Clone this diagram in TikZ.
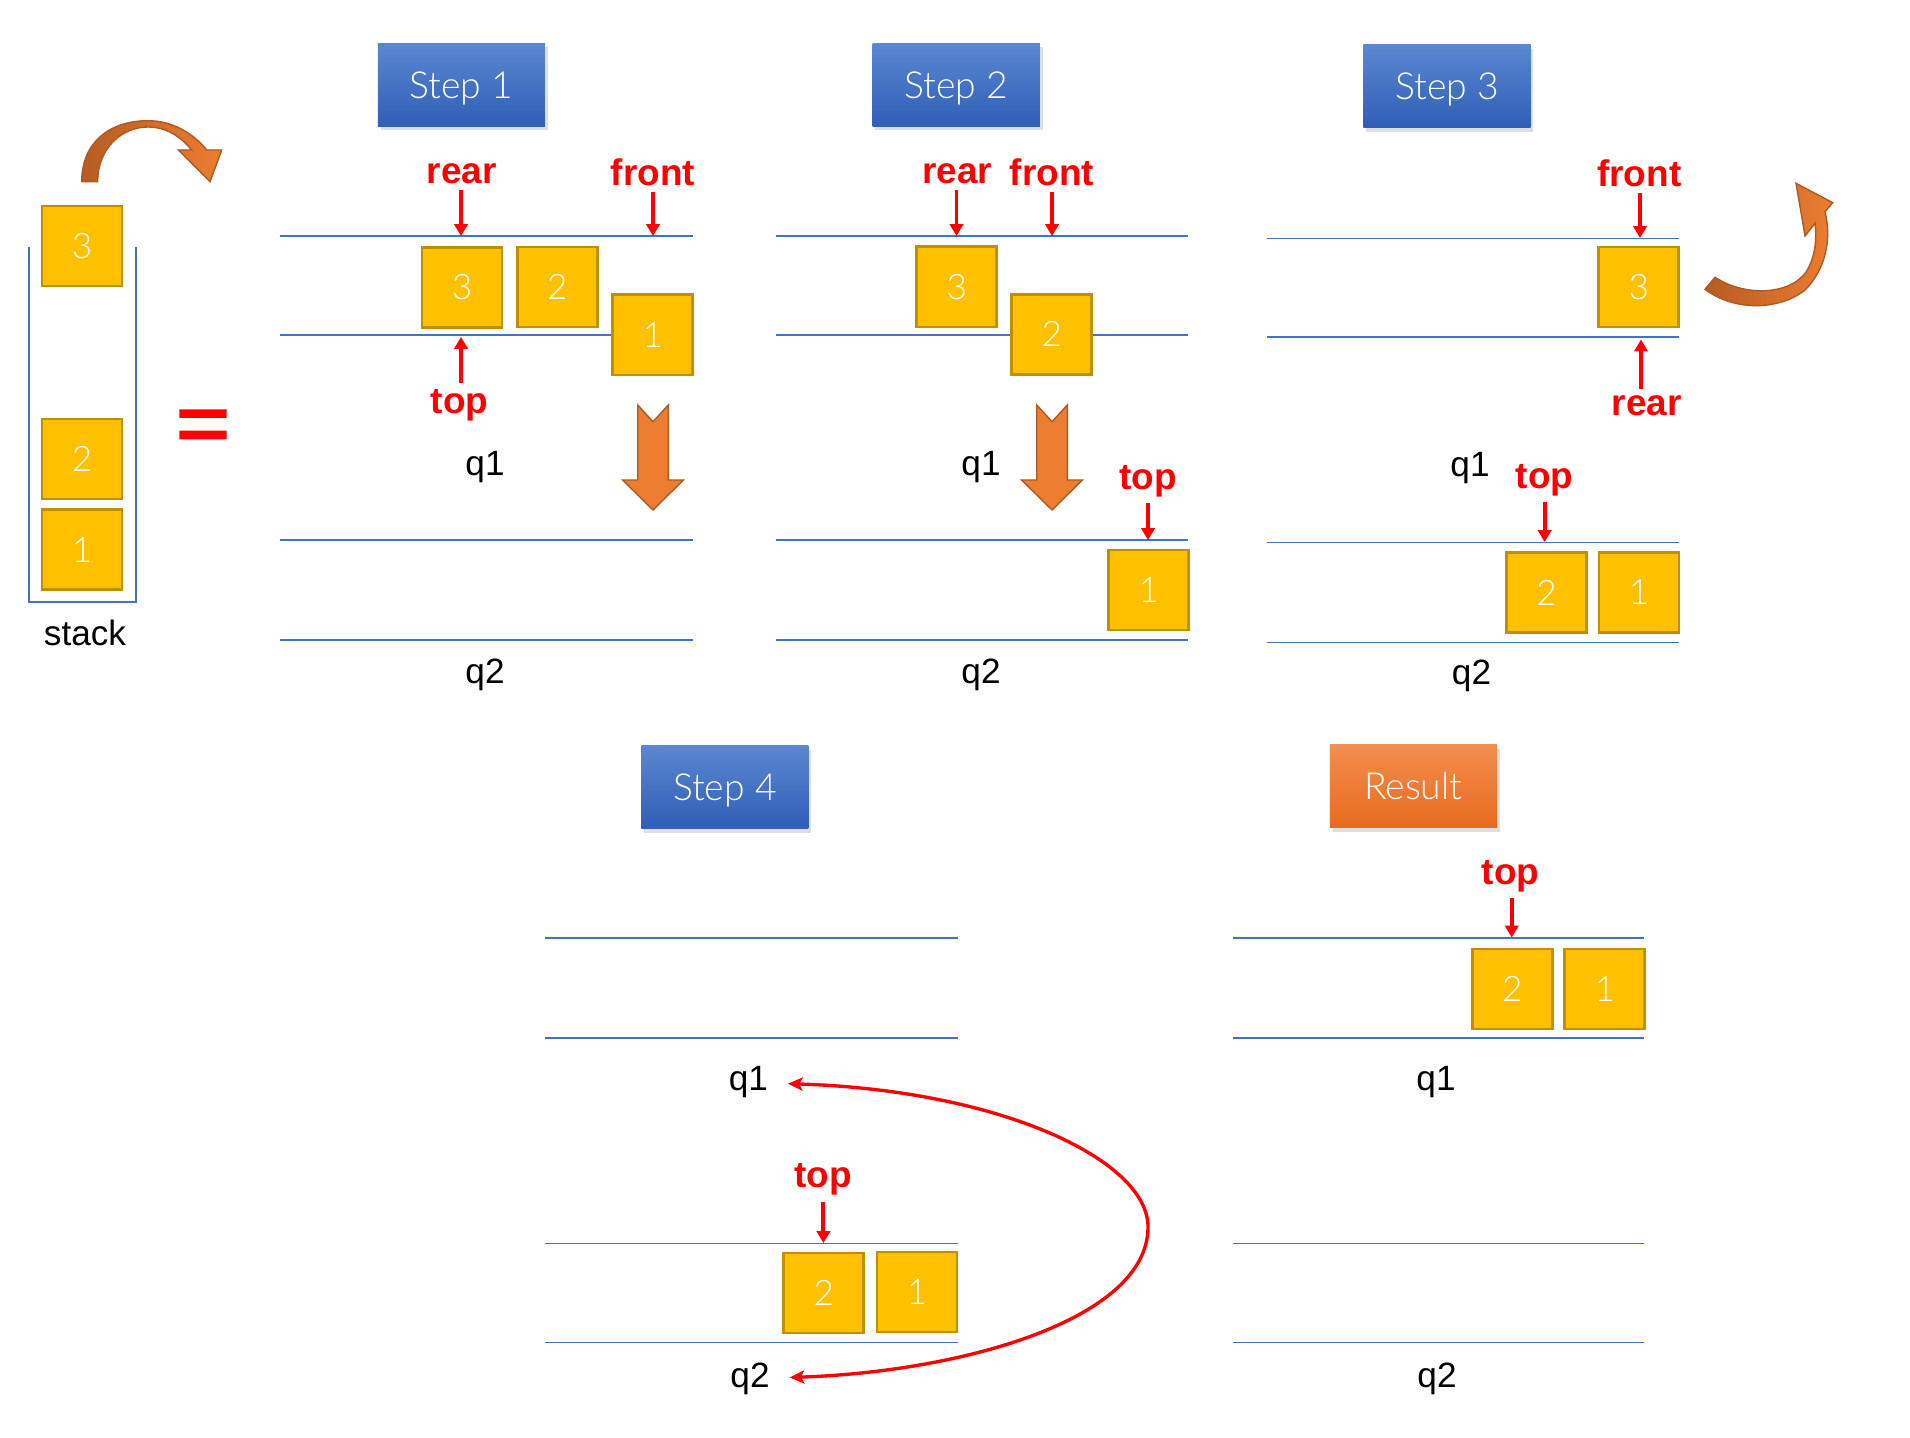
\documentclass[tikz,border=0pt]{standalone}
\usepackage{fontspec}
\setmainfont{Liberation Sans}
\newfontfamily\lightfont{Lato Light}
\usetikzlibrary{arrows.meta,shadows}

\definecolor{qblue}{HTML}{4472C4}
\definecolor{elemfill}{HTML}{FFC000}
\definecolor{elemedge}{HTML}{BF9000}
\definecolor{ptrred}{HTML}{FF0000}
\definecolor{bendlight}{HTML}{ED7D31}
\definecolor{benddark}{HTML}{B65C22}
\definecolor{bendedge}{HTML}{AE5A21}
\definecolor{stepblueT}{HTML}{5B87D1}
\definecolor{stepblueB}{HTML}{2F5EB6}
\definecolor{resultT}{HTML}{F28E50}
\definecolor{resultB}{HTML}{E86A1C}

\begin{document}
\begin{tikzpicture}[
    x=0.01cm, y=-0.01cm,
    font=\fontsize{10}{12}\selectfont,
    qline/.style={draw=qblue, line width=0.5pt},
    elem/.style={draw=elemedge, fill=elemfill, line width=0.8pt,
      minimum size=0.8cm, inner sep=0pt, text=white,
      font=\lightfont\fontsize{10}{12}\selectfont},
    ptr/.style={text=ptrred, inner sep=1.5pt,
      font=\bfseries\fontsize{10.5}{12}\selectfont},
    ptrarrow/.style={draw=ptrred, line width=1.1pt,
      -{Triangle[length=3.4pt,width=3.8pt]}},
    swaparrow/.style={draw=ptrred, line width=0.95pt,
      {Stealth[length=4.2pt,width=3.8pt,inset=1pt]}-{Stealth[length=4.2pt,width=3.8pt,inset=1pt]},
      shorten <=2.5pt, shorten >=2.5pt},
    qname/.style={inner sep=3pt},
    stepbox/.style={minimum width=1.67cm, minimum height=0.83cm,
      text depth=0pt, top color=stepblueT, bottom color=stepblueB, text=white,
      font=\lightfont\fontsize{10.6}{12}\selectfont,
      drop shadow={shadow xshift=0.8pt, shadow yshift=-1.2pt, opacity=0.25}},
    curvedarrow/.style={left color=benddark, right color=bendlight,
      draw=bendedge, line width=0.4pt},
    downarrow/.style={fill=bendlight, draw=bendedge, line width=0.4pt},
  ]
  \useasboundingbox (0,0) rectangle (1910,1437);

  % queue rails: x from, x to, four rail heights
  \foreach \xa/\xb/\ya/\yb/\yc/\yd in {
      280/693/236/335/540/640,
      776/1188/236/335/540/640,
      1267/1679/238.5/337/542.5/642.5,
      544.5/957.5/938/1038/1243.5/1342.5,
      1232.7/1644.4/938/1038/1243.5/1342.5} {
    \foreach \y in {\ya,\yb,\yc,\yd}
      \draw[qline] (\xa,\y) -- (\xb,\y);
  }

  % the stack
  \draw[qline] (29.3,247) -- (29.3,602) -- (136.3,602) -- (136.3,247);
  \node (stack) at (85,632.5) {stack};
  \fill[ptrred] (179.3,409.3) rectangle (226.7,418)
                (179.3,430.7) rectangle (226.7,439.3);

  \foreach \n/\x/\y/\v in {
      k3/82/246/3, k2/82/459/2, k1/82/549.7/1,
      a3/462/287.3/3, a2/557.3/287/2, a1/652.8/334.9/1,
      b3/956.8/286.9/3, b2/1051.8/334.4/2, b1/1148.7/590/1,
      c3/1638.8/287/3, c2/1546.5/592.5/2, c1/1639/592.5/1,
      d2/823.8/1293/2, d1/917/1292/1,
      r2/1512.3/989/2, r1/1604.7/989/1}
    \node[elem] (\n) at (\x,\y) {\v};

  % step headers
  \foreach \n/\x/\y/\t in {st1/461.3/84.7/1, st2/956.2/84.7/2,
      st3/1447/85.9/3, st4/724.8/786.9/4}
    \node[stepbox] (\n) at (\x,\y) {Step \t};
  \node[stepbox, top color=resultT, bottom color=resultB] (res) at (1413.3,786.3) {Result};

  % queue names
  \foreach \n/\x/\y/\t in {
      s1q1/485/467/q1, s1q2/485/675/q2,
      s2q1/981/467/q1, s2q2/981/675/q2,
      s3q1/1470/468/q1, s3q2/1471.5/676/q2,
      s4q1/748.3/1082.5/q1, s4q2/750/1378.7/q2,
      rq1/1436/1082.5/q1, rq2/1437/1378.7/q2}
    \node[qname] (\n) at (\x,\y) {\t};

  % pointers: name/text/label x/label y/tip x/tip y/side
  \foreach \n/\t/\x/\y/\tx/\ty/\s in {
      s1rear/rear/461.7/174/461/236/south,
      s1front/front/653/172/653/236/south,
      s1top/top/459.5/405/461/337/north,
      s2rear/rear/957/174/956.5/236/south,
      s2front/front/1052/172/1052/236/south,
      s2top/top/1148.3/480.8/1148/540/south,
      s3front/front/1639.3/173.3/1640/238/south,
      s3rear/rear/1646.7/405.5/1641/339.5/north,
      s3top/top/1544.6/480.5/1544.6/542/south,
      s4top/top/823.3/1179.7/823.4/1243/south,
      rtop/top/1510.4/876.4/1511.7/937.5/south} {
    \node[ptr] (\n) at (\x,\y) {\t};
    \coordinate (t\n) at (\tx,\ty);
    \draw[ptrarrow] (\n.\s -| t\n) -- (t\n);
  }

  % moves from q1 to q2
  \foreach \cx in {653,1052}
    \path[downarrow] ({\cx-15.3},405) -- (\cx,421.7) -- ({\cx+15.3},405)
      -- ({\cx+15.3},480) -- ({\cx+30.4},480) -- (\cx,510)
      -- ({\cx-30.4},480) -- ({\cx-15.3},480) -- cycle;

  % pop from the stack, pop at the end
  \path[curvedarrow] (81.7,181.7) .. controls (81.7,142) and (110,120.7) .. (148,120.7)
    .. controls (172,120.7) and (193,133) .. (206.7,150) -- (221.7,150) -- (210,181.7)
    -- (178.3,150) -- (191.7,150) .. controls (180,136) and (166,127) .. (148,127)
    .. controls (122,127) and (97.7,148) .. (97.7,181.7) -- cycle;
  \path[curvedarrow] (1705,289.3) -- (1715,277.3)
    .. controls (1745,297) and (1790,295) .. (1806,272)
    .. controls (1815,258) and (1817,240) .. (1815,223.3)
    -- (1805,236) -- (1796,183.3) -- (1832.7,202.7) -- (1825,211.7)
    .. controls (1832,240) and (1825,270) .. (1805,290)
    .. controls (1780,310) and (1735,312) .. (1705,289.3) -- cycle;

  % swap q1 and q2
  \draw[swaparrow] (s4q1) .. controls (1000,1090) and (1148,1160) .. (1148,1227)
    .. controls (1148,1320) and (960,1372) .. (s4q2);
\end{tikzpicture}
\end{document}
